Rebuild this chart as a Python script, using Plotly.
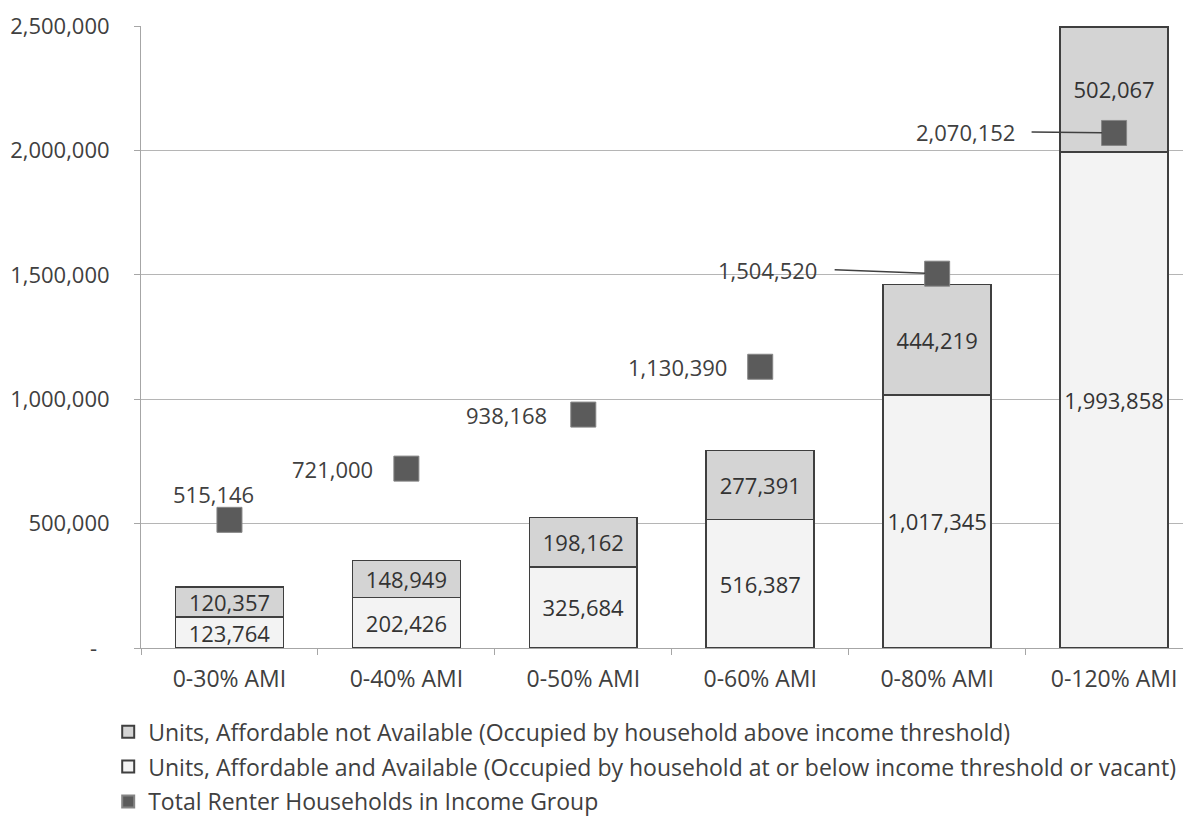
import plotly.graph_objects as go

# ---------------- data ----------------
categories = ["0-30% AMI", "0-40% AMI", "0-50% AMI", "0-60% AMI", "0-80% AMI", "0-120% AMI"]
affordable_available = [123764, 202426, 325684, 516387, 1017345, 1993858]
affordable_not_available = [120357, 148949, 198162, 277391, 444219, 502067]
total_renters = [515146, 721000, 938168, 1130390, 1504520, 2070152]
y_ticks = [0, 500000, 1000000, 1500000, 2000000, 2500000]
y_tick_labels = ["-\u2007", "500,000", "1,000,000", "1,500,000", "2,000,000", "2,500,000"]

name_not_avail = "Units, Affordable not Available (Occupied by household above income threshold)"
name_avail = "Units, Affordable and Available (Occupied by household at or below income threshold or vacant)"
name_total = "Total Renter Households in Income Group"

# ---------------- styling ----------------
FONT = "Open Sans, Lato, DejaVu Sans, sans-serif"
TXT = "#404040"
GRID = "#b5b5b5"
EDGE = "#3f3f3f"

# label placement for the marker values (pixel offsets): xshift, yshift, xanchor
label_style = [(-16, 26, "center"), (-31, 0, "right"), (-34, 0, "right"),
               (-31, 0, "right"), (-118, 4, "right"), (-97, 1, "right")]
# leader lines (index -> (ax, ay))
leaders = {4: (-104, -4), 5: (-84, -1)}

fig = go.Figure()

fig.add_trace(go.Bar(
    x=categories, y=affordable_available, name=name_avail,
    marker=dict(color="#f3f3f3", line=dict(color=EDGE, width=1.6)),
    text=[f"{v:,}" for v in affordable_available],
    textposition="inside", insidetextanchor="middle", textangle=0,
    textfont=dict(family=FONT, size=22, color="#333333"),
    width=0.61, legendrank=2, legendgroup="b", hoverinfo="skip",
))
fig.add_trace(go.Bar(
    x=categories, y=affordable_not_available, name=name_not_avail,
    marker=dict(color="#d4d4d4", line=dict(color=EDGE, width=1.6)),
    text=[f"{v:,}" for v in affordable_not_available],
    textposition="inside", insidetextanchor="middle", textangle=0,
    textfont=dict(family=FONT, size=22, color="#333333"),
    width=0.61, legendrank=1, legendgroup="a", hoverinfo="skip",
))
fig.add_trace(go.Scatter(
    x=categories, y=total_renters, name=name_total, mode="markers",
    marker=dict(symbol="square", size=25, color="#5b5b5b", line=dict(color="#858585", width=1)),
    legendrank=3, legendgroup="c", hoverinfo="skip",
))

annotations = []
for i, (c, v) in enumerate(zip(categories, total_renters)):
    xs, ys, xa = label_style[i]
    annotations.append(dict(
        x=c, y=v, xref="x", yref="y", text=f"{v:,}", showarrow=False,
        xanchor=xa, yanchor="middle", xshift=xs, yshift=ys,
        font=dict(family=FONT, size=22, color=TXT),
    ))
    if i in leaders:
        ax, ay = leaders[i]
        annotations.append(dict(
            x=c, y=v, xref="x", yref="y", text="", showarrow=True,
            ax=ax, ay=ay, arrowhead=0, arrowwidth=1.5, arrowcolor="#404040",
            standoff=12,
        ))

fig.update_layout(
    width=1191, height=817, autosize=False,
    margin=dict(l=133, r=0, t=18, b=177, autoexpand=False),
    paper_bgcolor="white", plot_bgcolor="white",
    barmode="stack",
    font=dict(family=FONT, color=TXT),
    uniformtext=dict(minsize=22, mode="show"),
    showlegend=True,
    legend=dict(
        orientation="v", x=-0.031, xanchor="left", y=-0.1, yanchor="top",
        font=dict(family=FONT, size=23, color=TXT),
        tracegroupgap=2, itemsizing="constant", itemwidth=30,
        bgcolor="rgba(0,0,0,0)",
    ),
    annotations=annotations,
    xaxis=dict(
        range=[-0.5, 5.48], showline=True, linecolor="#a6a6a6", linewidth=1,
        ticks="outside", tickson="boundaries", ticklen=6, tickcolor="#a6a6a6",
        tickfont=dict(family=FONT, size=23, color=TXT), showgrid=False,
        ticklabelstandoff=10, fixedrange=True, automargin=False,
    ),
    yaxis=dict(
        range=[0, 2500000], tickvals=y_ticks, ticktext=y_tick_labels,
        showgrid=True, gridcolor=GRID, gridwidth=1, zeroline=False,
        showline=True, linecolor="#a6a6a6", linewidth=1,
        ticks="outside", ticklen=6, tickcolor="#a6a6a6",
        tickfont=dict(family=FONT, size=22, color=TXT),
        ticklabelstandoff=20, fixedrange=True, automargin=False,
    ),
)

fig.write_html("out.html")
